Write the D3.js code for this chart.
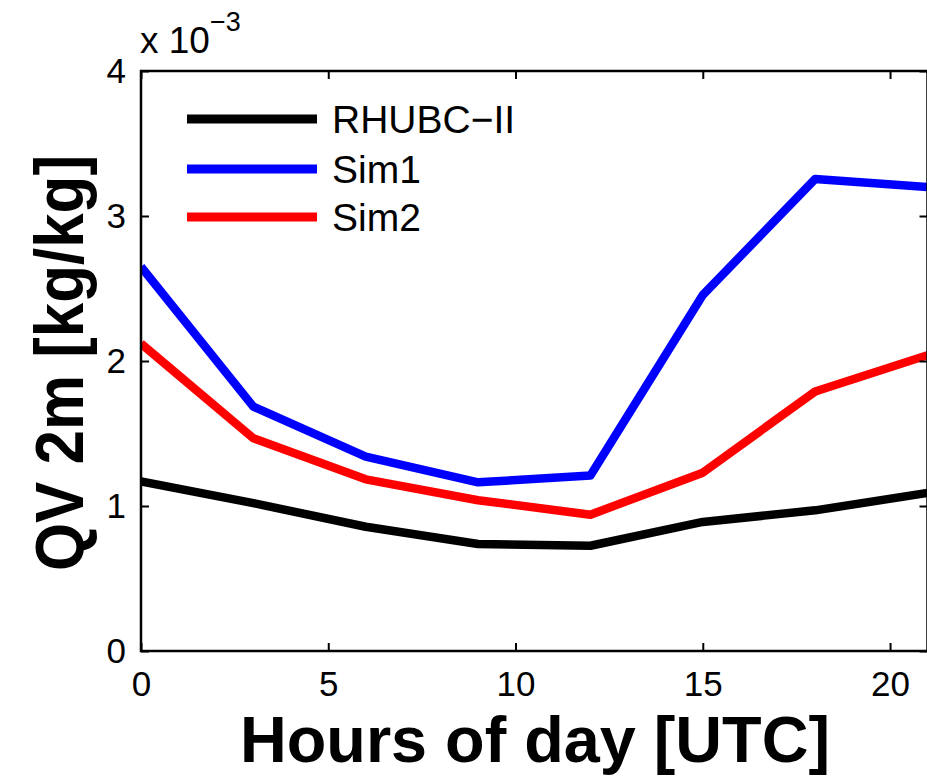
<!DOCTYPE html>
<html>
<head>
<meta charset="utf-8">
<script src="https://cdn.jsdelivr.net/npm/d3@7"></script>
<style>
  html, body { margin: 0; padding: 0; background: #fff; }
  svg { display: block; }
  text { font-family: "Liberation Sans", Arial, Helvetica, sans-serif; }
</style>
</head>
<body>
<svg id="chart" width="927" height="776"></svg>
<script>
// Hours of day (UTC) sampled every 3 hours
const hours = [0, 3, 6, 9, 12, 15, 18, 21];

// 2 m specific humidity, in units of 1e-3 kg/kg
const rhubc = [1.17, 1.02, 0.857, 0.738, 0.726, 0.89, 0.97, 1.09];
const sim1  = [2.65, 1.685, 1.34, 1.163, 1.21, 2.455, 3.255, 3.20];
const sim2  = [2.12, 1.467, 1.184, 1.04, 0.94, 1.23, 1.79, 2.04];

const seriesNames  = ["RHUBC\u2212II", "Sim1", "Sim2"];
const seriesColors = ["#000000", "#0000ff", "#ff0000"];
const seriesValues = [rhubc, sim1, sim2];

const xTicks = [0, 5, 10, 15, 20];
const yTicks = [0, 1, 2, 3, 4];

const svg = d3.select("#chart");

const box = { left: 141, right: 927.5, top: 71, bottom: 651 };

const x = d3.scaleLinear().domain([0, 21]).range([box.left, box.right]);
const y = d3.scaleLinear().domain([0, 4]).range([box.bottom, box.top]);

// Data lines (clipped to the axes box)
svg.append("defs").append("clipPath").attr("id", "plotClip")
  .append("rect").attr("x", box.left).attr("y", box.top)
  .attr("width", box.right - box.left).attr("height", box.bottom - box.top);

const line = d3.line().x(d => x(d[0])).y(d => y(d[1]));

const plot = svg.append("g").attr("clip-path", "url(#plotClip)");
seriesValues.forEach((vals, i) => {
  plot.append("path")
    .datum(hours.map((h, j) => [h, vals[j]]))
    .attr("d", line)
    .attr("fill", "none")
    .attr("stroke", seriesColors[i])
    .attr("stroke-width", 8.5)
    .attr("stroke-linejoin", "round");
});

// Axes box with inward ticks on all four sides
const tickLen = 8;
const tickFont = 35;
const axisStyle = g => {
  g.select(".domain").remove();
  g.selectAll(".tick line").attr("stroke", "#000").attr("stroke-width", 2);
  g.selectAll(".tick text").attr("fill", "#000").attr("font-size", tickFont);
};

svg.append("g")
  .attr("transform", `translate(0,${box.bottom})`)
  .call(d3.axisBottom(x).tickValues(xTicks).tickSize(-tickLen).tickPadding(20).tickFormat(d3.format("d")))
  .call(axisStyle);

svg.append("g")
  .attr("transform", `translate(0,${box.top})`)
  .call(d3.axisTop(x).tickValues(xTicks).tickSize(-tickLen).tickFormat(""))
  .call(axisStyle);

svg.append("g")
  .attr("transform", `translate(${box.left},0)`)
  .call(d3.axisLeft(y).tickValues(yTicks).tickSize(-tickLen).tickPadding(15).tickFormat(d3.format("d")))
  .call(axisStyle);

svg.append("g")
  .attr("transform", `translate(${box.right},0)`)
  .call(d3.axisRight(y).tickValues(yTicks).tickSize(-tickLen).tickFormat(""))
  .call(axisStyle);

svg.append("rect")
  .attr("x", box.left).attr("y", box.top)
  .attr("width", box.right - box.left).attr("height", box.bottom - box.top)
  .attr("fill", "none").attr("stroke", "#000").attr("stroke-width", 2.5);

// Exponent label
const expo = svg.append("text").attr("x", 140).attr("y", 53).attr("font-size", 37).attr("fill", "#000");
expo.append("tspan").text("x 10");
expo.append("tspan").attr("font-size", 27).attr("dy", -22).text("\u22123");

// Axis titles (bold, slightly condensed)
svg.append("text")
  .attr("x", 240).attr("y", 762)
  .attr("font-size", 64).attr("font-weight", "bold")
  .attr("textLength", 590).attr("lengthAdjust", "spacingAndGlyphs")
  .text("Hours of day [UTC]");

svg.append("text")
  .attr("transform", "translate(83,571) rotate(-90)")
  .attr("font-size", 69).attr("font-weight", "bold")
  .attr("textLength", 416).attr("lengthAdjust", "spacingAndGlyphs")
  .text("QV 2m [kg/kg]");

// Legend
const legendY = [119, 169, 217];
seriesNames.forEach((name, i) => {
  svg.append("line")
    .attr("x1", 187).attr("x2", 317)
    .attr("y1", legendY[i]).attr("y2", legendY[i])
    .attr("stroke", seriesColors[i]).attr("stroke-width", 9);
  svg.append("text")
    .attr("x", 332).attr("y", legendY[i] + 14)
    .attr("font-size", 39).attr("fill", "#000")
    .text(name);
});
</script>
</body>
</html>
